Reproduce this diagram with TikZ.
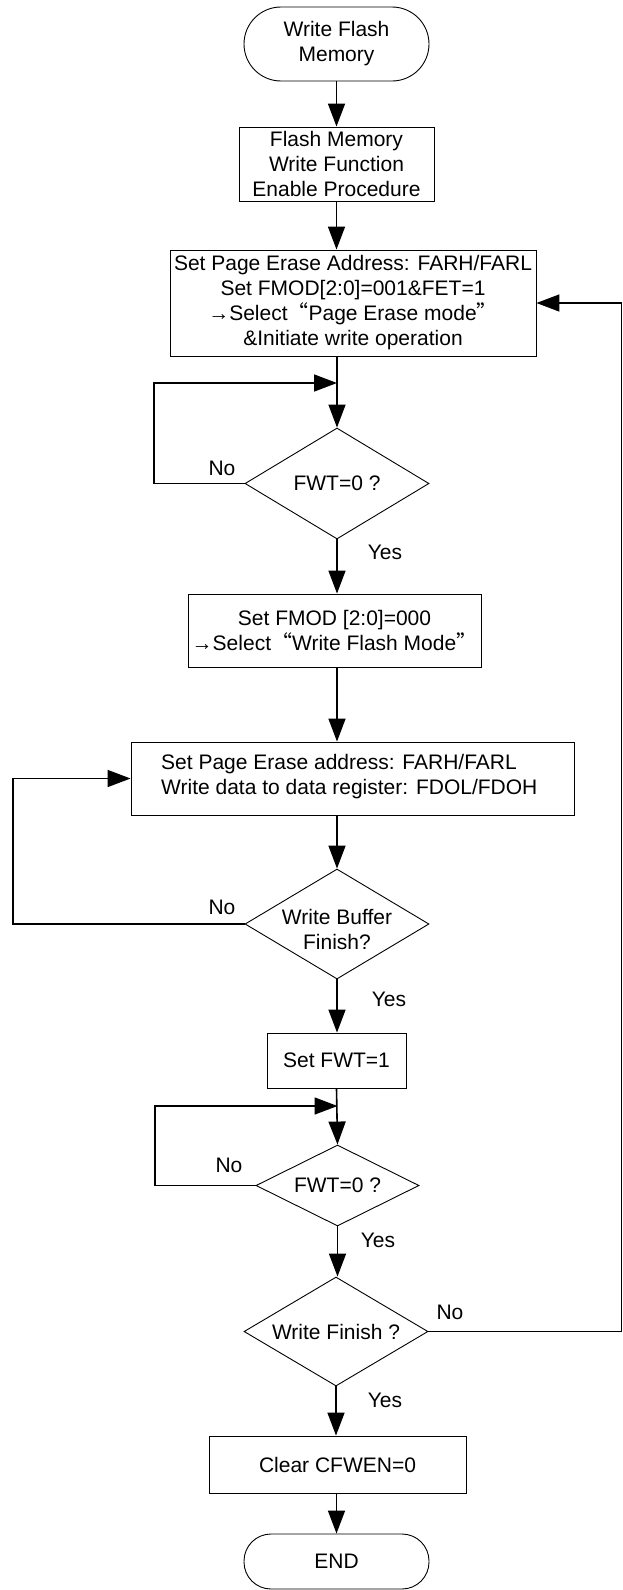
\documentclass[tikz,border=0pt]{standalone}
\usepackage{fontspec}
\setmainfont{Liberation Sans}
\newfontfamily\cjk{Noto Sans CJK SC}
\usetikzlibrary{arrows.meta,shapes.geometric}
\newcommand{\myLq}{{\cjk “}}
\newcommand{\myRq}{{\cjk ”}}
\begin{document}
\begin{tikzpicture}[x=1pt,y=-1pt,
  font=\fontsize{21}{25}\selectfont,
  shp/.style={draw, line width=0.9pt, inner sep=0pt, align=center},
  procbox/.style={shp, rectangle},
  term/.style={shp, rectangle, rounded corners=#1},
  dia/.style={shp, diamond},
  conn/.style={line width=1.6pt, -{Triangle[length=23pt,width=17pt]}},
  plain/.style={line width=1.6pt},
  lbl/.style={inner sep=0pt, align=center}
]
\useasboundingbox (0,0) rectangle (623,1590);
\fill[white] (0,0) rectangle (623,1590);

% nodes
\node[term=37pt, minimum width=185pt, minimum height=74pt] (start) at (336.5,44) {Write Flash\\Memory};
\node[procbox, minimum width=195pt, minimum height=74pt] (b2) at (336.5,164) {Flash Memory\\Write Function\\Enable Procedure};
\node[procbox, minimum width=366pt, minimum height=106pt] (b3) at (353,303) {Set Page Erase Address: FARH/FARL\\Set FMOD[2:0]=001\&FET=1\\→Select\myLq Page Erase mode\myRq\\\&Initiate write operation};
\node[dia, minimum width=184pt, minimum height=111pt] (d1) at (337,483.5) {};
\node[lbl] (d1t) at (d1.center) {FWT=0 ?};
\node[procbox, minimum width=293pt, minimum height=73pt] (b4) at (334.5,630.5) {Set FMOD [2:0]=000\\→Select\myLq Write Flash Mode\myRq};
\node[procbox, minimum width=443pt, minimum height=73pt] (b5) at (352.5,778.5) {};
\node[lbl, anchor=west, align=left] (b5t) at (161,777) {Set Page Erase address: FARH/FARL\\Write data to data register: FDOL/FDOH};
\node[dia, minimum width=184pt, minimum height=110pt] (d2) at (337,924) {};
\node[lbl] (d2t) at (337,929.5) {Write Buffer\\Finish?};
\node[procbox, minimum width=139pt, minimum height=55pt] (b6) at (336.5,1060.5) {Set FWT=1};
\node[dia, minimum width=163pt, minimum height=81pt] (d3) at (337.5,1185.5) {};
\node[lbl] (d3t) at (d3.center) {FWT=0 ?};
\node[dia, minimum width=184pt, minimum height=109pt] (d4) at (336,1331.5) {};
\node[lbl] (d4t) at (d4.center) {Write Finish ?};
\node[procbox, minimum width=257pt, minimum height=57pt] (b7) at (337.5,1464.5) {Clear CFWEN=0};
\node[term=27pt, minimum width=185pt, minimum height=55pt] (end) at (336.5,1561.5) {END};

% labels
\node[lbl] (no1) at (222,468) {No};
\node[lbl] (no2) at (222,907) {No};
\node[lbl] (no3) at (229,1165) {No};
\node[lbl] (no4) at (450,1312) {No};
\node[lbl] (yes1) at (385,552) {Yes};
\node[lbl] (yes2) at (389,999) {Yes};
\node[lbl] (yes3) at (378,1240) {Yes};
\node[lbl] (yes4) at (385,1400) {Yes};

% helper coordinates
\coordinate (j1) at (337,383);
\coordinate (c1) at (154,483.5);
\coordinate (c2) at (13,924);
\coordinate (j3) at (337.5,1106);
\coordinate (c3) at (155,1185.5);
\coordinate (c4) at (621.5,1331.5);

% connectors
\draw[conn] (start.south) -- (b2.south |- start.south) -- (b2.north);
\draw[conn] (b2.south) -- (b2.south |- b3.north);
\draw[conn] (d1.north |- b3.south) -- (d1.north);
\draw[conn] (d1.west) -- (c1) |- (j1);
\draw[conn] (d1.south) -- (d1.south |- b4.north);
\draw[conn] (d1.south |- b4.south) -- (d1.south |- b5.north);
\draw[conn] (d2.north |- b5.south) -- (d2.north);
\draw[conn] (d2.west) -- (c2) |- (b5.west);
\draw[conn] (d2.south) -- (b6.north -| d2.south);
\draw[conn] (b6.south) -- (d3.north);
\draw[conn] (d3.west) -- (c3) |- (j3);
\draw[conn] (d3.south) -- (d4.north -| d3.south);
\draw[conn] (d4.east) -- (c4) |- (b3.east);
\draw[conn] (d4.south) -- (b7.north -| d4.south);
\draw[conn] (b7.south -| end.north) -- (end.north);
\end{tikzpicture}
\end{document}
